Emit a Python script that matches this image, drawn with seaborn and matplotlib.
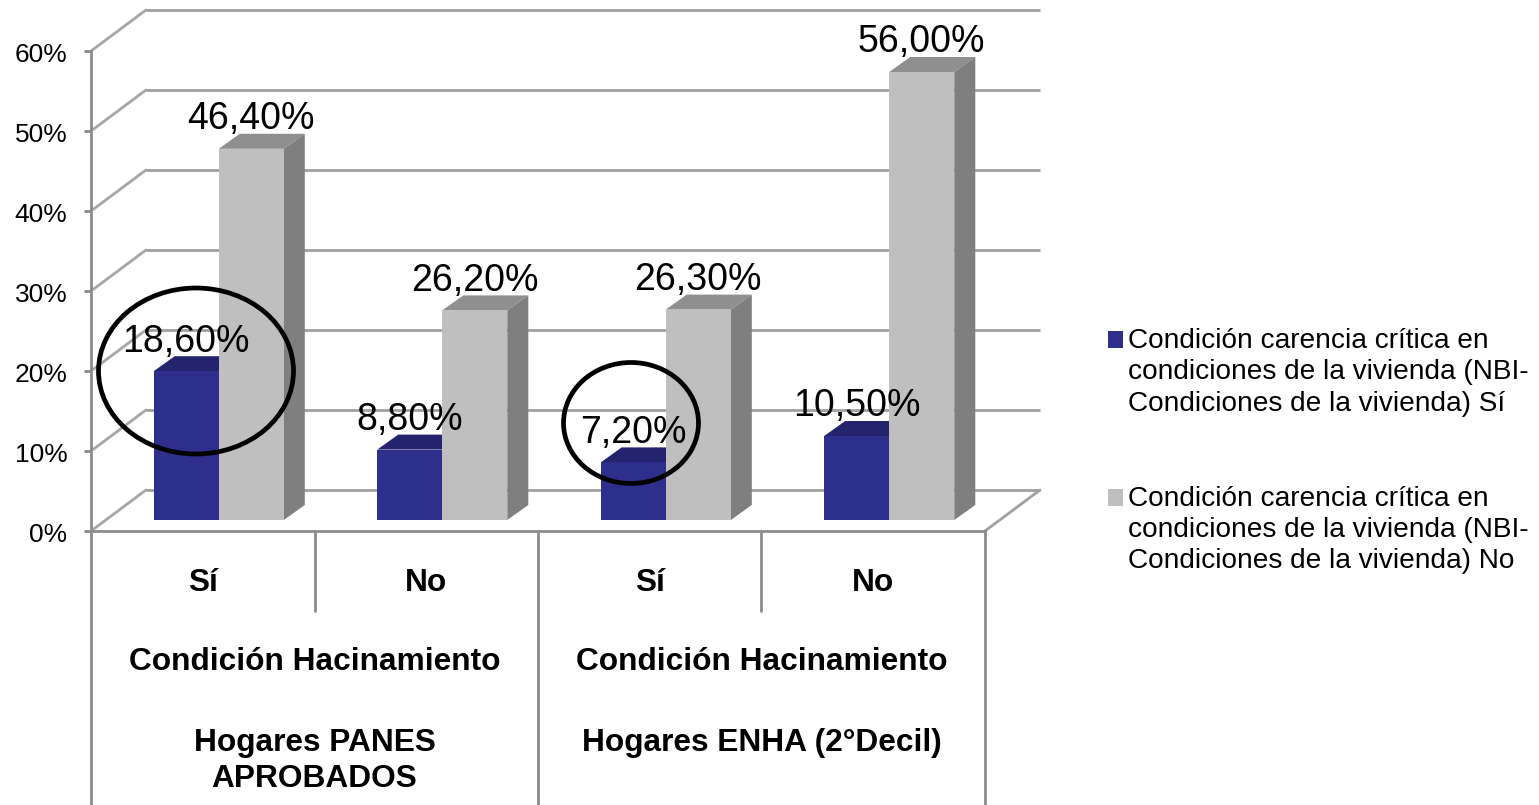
import matplotlib
matplotlib.use("Agg")
import matplotlib.pyplot as plt
from matplotlib.patches import Ellipse, Polygon
from matplotlib.transforms import ScaledTranslation
import pandas as pd
import seaborn as sns

sns.set_theme(style="white")
plt.rcParams['font.family'] = ['Liberation Sans', 'DejaVu Sans']

# values
bars = ["PANES Sí", "PANES No", "ENHA Sí", "ENHA No"]
carencia_si = [18.6, 8.8, 7.2, 10.5]
carencia_no = [46.4, 26.2, 26.3, 56.0]
etiquetas_si = ["18,60%", "8,80%", "7,20%", "10,50%"]
etiquetas_no = ["46,40%", "26,20%", "26,30%", "56,00%"]
nivel1 = ["Sí", "No", "Sí", "No"]
nivel2 = ["Condición Hacinamiento", "Condición Hacinamiento"]
nivel3 = ["Hogares PANES\nAPROBADOS", "Hogares ENHA (2°Decil)"]
yticks = [0, 10, 20, 30, 40, 50, 60]
serie_si = "Condición carencia crítica en\ncondiciones de la vivienda (NBI-\nCondiciones de la vivienda) Sí"
serie_no = "Condición carencia crítica en\ncondiciones de la vivienda (NBI-\nCondiciones de la vivienda) No"

AZUL, AZUL_TOP = "#2e2e8c", "#24246e"
GRIS, GRIS_TOP, GRIS_LADO = "#bfbfbf", "#8f8f8f", "#7f7f7f"
LINEA = "#8c8c8c"
W, H = 1539, 805
CAT_PX = 894 / 4   # px per category
Y_PX = 8.0         # px per percent unit

df = pd.DataFrame({"grupo": bars * 2,
                   "valor": carencia_si + carencia_no,
                   "serie": [serie_si] * 4 + [serie_no] * 4})

fig = plt.figure(figsize=(W / 100, H / 100), dpi=100)
ax = fig.add_axes([91 / W, (H - 531) / H, 894 / W, 480 / H])

base = 11 / Y_PX          # bars stand a little in front of the wall
sns.barplot(data=df, x="grupo", y="valor", hue="serie", order=bars,
            hue_order=[serie_si, serie_no], palette=[AZUL, GRIS],
            width=0.582, gap=0, errorbar=None, saturation=1,
            linewidth=0, ax=ax)
ax.set_xlim(-0.5, 3.5)
ax.set_ylim(0, 60)
ax.set_xlabel("")
ax.set_ylabel("")

# back wall and side wall
bx, by = 55 / CAT_PX, 41 / Y_PX
for t in yticks:
    ax.plot([-0.5 + bx, 3.5 + bx], [t + by, t + by], color="#a0a0a0", lw=2, clip_on=False, zorder=1, solid_capstyle="butt")
    ax.plot([-0.5, -0.5 + bx], [t, t + by], color="#a6a6a6", lw=2, clip_on=False, zorder=1)
ax.plot([3.5, 3.5 + bx], [0, by], color="#a0a0a0", lw=2, clip_on=False, zorder=1)

# 3d faces from the bars themselves
dx, dy = 21 / CAT_PX, 15 / Y_PX
shift = 16 / CAT_PX
n = len(bars)
for i, p in enumerate(list(ax.patches)[:2 * n]):
    p.set_x(p.get_x() + shift)
    p.set_y(base)
    x0, x1 = p.get_x(), p.get_x() + p.get_width()
    y0, y1 = p.get_y(), p.get_y() + p.get_height()
    es_si = i < n
    z = 2 if es_si else 3
    p.set_zorder(2.5 if es_si else 3.5)
    ax.add_patch(Polygon([(x0, y1), (x0 + dx, y1 + dy), (x1 + dx, y1 + dy), (x1, y1)],
                         color=AZUL_TOP if es_si else GRIS_TOP, lw=0, zorder=z, clip_on=False))
    ax.add_patch(Polygon([(x1, y0), (x1 + dx, y0 + dy), (x1 + dx, y1 + dy), (x1, y1)],
                         color=AZUL_TOP if es_si else GRIS_LADO, lw=0, zorder=z, clip_on=False))
    etiqueta = etiquetas_si[i] if es_si else etiquetas_no[i - n]
    ax.annotate(etiqueta, ((x0 + x1) / 2, y1 + dy), xytext=(0, -2.5), textcoords="offset points",
                ha="center", va="bottom", fontsize=27, color="black", zorder=6, annotation_clip=False)

# axes
for s in ["top", "right"]:
    ax.spines[s].set_visible(False)
for s in ["left", "bottom"]:
    ax.spines[s].set_color(LINEA)
    ax.spines[s].set_linewidth(2)
    ax.spines[s].set_zorder(4)
ax.set_yticks(yticks)
ax.set_yticklabels(["%d%%" % t for t in yticks], fontsize=19, color="black")
ax.tick_params(axis="y", left=True, length=5, width=2, color=LINEA, pad=12)
for lab in ax.get_yticklabels():
    lab.set_transform(lab.get_transform() + ScaledTranslation(0, -2 / 100, fig.dpi_scale_trans))
ax.set_xticks([])

# category table under the axis
tr = ax.get_xaxis_transform()
def y_px(py):
    return (531 - py) / 480.0

for c in [-0.5, 1.5, 3.5]:
    ax.plot([c, c], [y_px(531), y_px(805)], transform=tr, color=LINEA, lw=2, clip_on=False)
for c in [0.5, 2.5]:
    ax.plot([c, c], [y_px(531), y_px(611)], transform=tr, color=LINEA, lw=2, clip_on=False)

BOLD = dict(transform=tr, ha="center", va="center", fontsize=22.8, fontweight="bold", color="black")
for i, t in enumerate(nivel1):
    ax.text(i, y_px(583), t, **BOLD)
for i, t in enumerate(nivel2):
    ax.text(0.5 + 2 * i, y_px(662), t, **BOLD)
ax.text(0.5, y_px(761), nivel3[0], linespacing=1.28, **BOLD)
ax.text(2.5, y_px(743), nivel3[1], **BOLD)

# hand drawn circles
for cx, cy, ew, eh in [(196, 371, 195, 166), (631, 423, 135, 121)]:
    ax.add_patch(Ellipse(((cx - 91) / CAT_PX - 0.5, (531 - cy) / Y_PX), ew / CAT_PX, eh / Y_PX,
                         fill=False, ec="black", lw=3.4, zorder=7, clip_on=False))

# legend
sns.move_legend(ax, "upper left", bbox_to_anchor=(1108 / W, (H - 328) / H), bbox_transform=fig.transFigure,
                title=None, frameon=False, fontsize=20.2, labelspacing=2.45, handlelength=0.54, handleheight=0.54,
                handletextpad=0.18, borderpad=0, borderaxespad=0)
leg = ax.get_legend()
for h in leg.legend_handles:
    h.set_y(h.get_y() + 23.6)
for t in leg.get_texts():
    t.set_linespacing(1.27)
    t.set_color("black")

fig.savefig("out.png", dpi=100, facecolor="white")
